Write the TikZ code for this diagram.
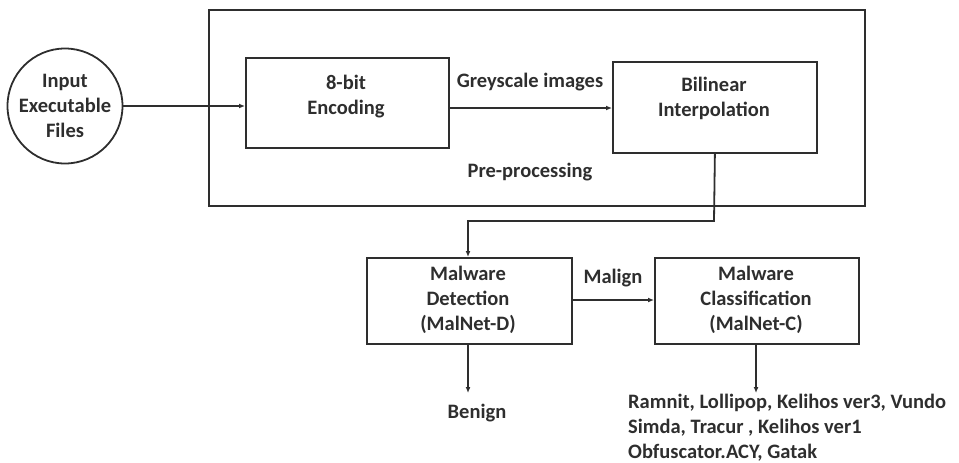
\documentclass[tikz,border=0pt]{standalone}
\usepackage{fontspec}
\setmainfont{Carlito}
\usetikzlibrary{arrows.meta}
\definecolor{ink}{HTML}{2E2E2E}
\begin{document}
\begin{tikzpicture}[x=1pt,y=-1pt,
  every node/.style={font=\bfseries\fontsize{20.5}{25}\selectfont, text=ink},
  blockbox/.style={draw=ink, line width=1.8pt, rectangle, align=center, anchor=north west},
  conn/.style={draw=ink, line width=1.8pt, -{Latex[length=6pt,width=5pt]}}]
  \useasboundingbox (0,0) rectangle (959,463);

  % pre-processing frame
  \node[blockbox, minimum width=656pt, minimum height=196pt] (frame) at (208,9) {};
  \node (pre) at (530,172) {Pre-processing};

  % input
  \node[draw=ink, line width=1.8pt, circle, minimum size=115pt, align=center, inner sep=0pt] (input) at (65,106) {Input\\Executable\\Files};

  % stages
  \node[blockbox, minimum width=203pt, minimum height=90pt] (enc) at (245,57) {};
  \node[align=center] at (346,97) {8-bit\\Encoding};
  \node[blockbox, minimum width=204pt, minimum height=91pt] (bil) at (612,61) {};
  \node[align=center] at (714,98) {Bilinear\\Interpolation};

  \node[blockbox, minimum width=205pt, minimum height=86pt] (det) at (366,257) {};
  \node[align=center] at (468,300) {Malware\\Detection\\(MalNet-D)};
  \node[blockbox, minimum width=204pt, minimum height=86pt] (cls) at (654,257) {};
  \node[align=center] at (756,300) {Malware\\Classification\\(MalNet-C)};

  % outputs
  \node (benign) at (477,413) {Benign};
  \node[align=left, anchor=west, inner sep=1pt] (fam) at (627,428) {Ramnit, Lollipop, Kelihos ver3, Vundo\\Simda, Tracur , Kelihos ver1\\Obfuscator.ACY, Gatak};
  \coordinate (benTip) at (468,393);
  \coordinate (famTip) at (756,393);

  % connectors
  \draw[conn] (input.east) -- (enc.west |- input.east);
  \draw[conn] (enc.east |- 0,108) -- (bil.west |- 0,108);
  \node at (530,82) {Greyscale images};
  \draw[conn] (bil.south) -- (714,221) -- (468,221) -- (det.north -| 468,0);
  \draw[conn] (det.east |- 0,300) -- (cls.west |- 0,300);
  \node at (613,278) {Malign};
  \draw[conn] (det.south -| benTip) -- (benTip);
  \draw[conn] (cls.south -| famTip) -- (famTip);
\end{tikzpicture}
\end{document}
